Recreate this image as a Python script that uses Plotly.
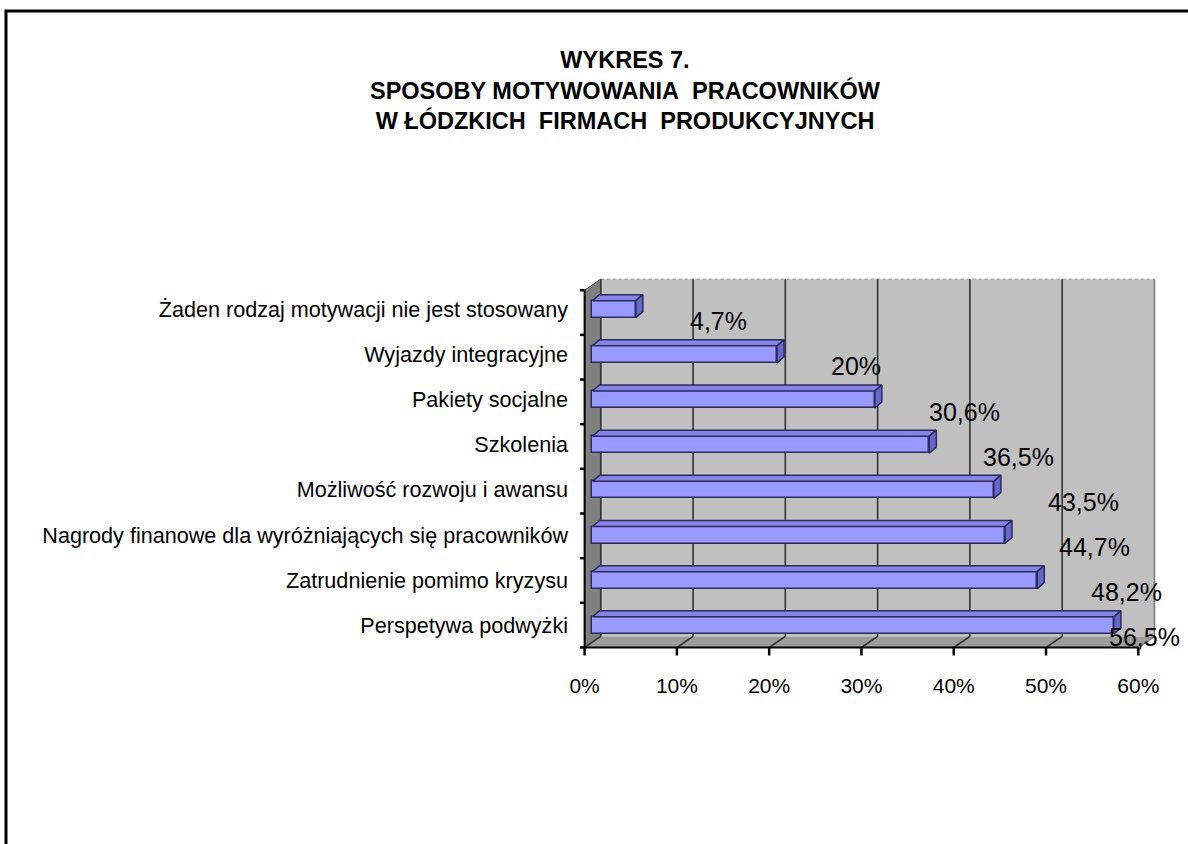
import plotly.graph_objects as go

# ---- data ----
categories = [
    "Żaden rodzaj motywacji nie jest stosowany",
    "Wyjazdy integracyjne",
    "Pakiety socjalne",
    "Szkolenia",
    "Możliwość rozwoju i awansu",
    "Nagrody finanowe dla wyróżniających się pracowników",
    "Zatrudnienie pomimo kryzysu",
    "Perspetywa podwyżki",
]
values = [4.7, 20, 30.6, 36.5, 43.5, 44.7, 48.2, 56.5]
x_ticks = [0, 10, 20, 30, 40, 50, 60]
x_tick_labels = ["0%", "10%", "20%", "30%", "40%", "50%", "60%"]
title_lines = ["WYKRES 7.", "SPOSOBY MOTYWOWANIA\u00a0 PRACOWNIKÓW", "W ŁÓDZKICH\u00a0 FIRMACH\u00a0 PRODUKCYJNYCH"]

# ---- style / geometry constants ----
W, H = 1188, 844
ML, MR, MT, MB = 580, 22, 264, 178
XR = [-0.5, 63.0]
YR = [7.9, -1.0]
FRONT_TOP, FRONT_BOTTOM = -0.42, 7.49
DX, DY = 1.75, 0.245          # depth of 3D box (x units, category units)
BAR_BASE = 0.85
BAR_W = 0.377
BDX, BDY = 0.76, 0.133        # bar depth
FONT = "Liberation Sans, Arial, sans-serif"
BAR_FACE = "#9999FF"
BAR_TOP = "#8585E6"
BAR_SIDE = "#6666CC"
BAR_LINE = "#2B2B5E"

n = len(categories)
idx = list(range(n))

fig = go.Figure()

# 3D top and side faces of bars
tx, ty, sx, sy = [], [], [], []
for i, v in zip(idx, values):
    x0, x1 = BAR_BASE, BAR_BASE + v
    yt, yb = i - BAR_W / 2, i + BAR_W / 2
    tx += [x0, x0 + BDX, x1 + BDX, x1, x0, None]
    ty += [yt, yt - BDY, yt - BDY, yt, yt, None]
    sx += [x1, x1 + BDX, x1 + BDX, x1, x1, None]
    sy += [yt, yt - BDY, yb - BDY, yb, yt, None]
fig.add_trace(go.Scatter(x=tx, y=ty, fill="toself", fillcolor=BAR_TOP, mode="lines",
                         line=dict(color=BAR_LINE, width=1.5), hoverinfo="skip", showlegend=False))
fig.add_trace(go.Scatter(x=sx, y=sy, fill="toself", fillcolor=BAR_SIDE, mode="lines",
                         line=dict(color=BAR_LINE, width=1.5), hoverinfo="skip", showlegend=False))

# front faces
fig.add_trace(go.Bar(
    x=values, y=idx, base=BAR_BASE, orientation="h", width=BAR_W,
    marker=dict(color=BAR_FACE, line=dict(color=BAR_LINE, width=1.5)),
    showlegend=False, hovertemplate="%{x}%<extra></extra>",
))

shapes = []
# back wall
shapes.append(dict(type="rect", xref="x", yref="y", x0=DX, x1=60 + DX,
                   y0=FRONT_TOP - DY, y1=FRONT_BOTTOM - DY,
                   fillcolor="#C0C0C0", line=dict(width=0), layer="below"))
# top dotted edge of back wall
shapes.append(dict(type="line", xref="x", yref="y", x0=DX, x1=60 + DX,
                   y0=FRONT_TOP - DY, y1=FRONT_TOP - DY,
                   line=dict(color="#8A8A8A", width=1, dash="dot"), layer="below"))
# left wall
shapes.append(dict(type="path", xref="x", yref="y",
                   path=f"M 0 {FRONT_TOP} L {DX} {FRONT_TOP - DY} L {DX} {FRONT_BOTTOM - DY} L 0 {FRONT_BOTTOM} Z",
                   fillcolor="#808080", line=dict(color="#404040", width=1), layer="below"))
# floor
shapes.append(dict(type="path", xref="x", yref="y",
                   path=f"M 0 {FRONT_BOTTOM} L 60 {FRONT_BOTTOM} L {60 + DX} {FRONT_BOTTOM - DY} L {DX} {FRONT_BOTTOM - DY} Z",
                   fillcolor="#9C9C9C", line=dict(width=0), layer="below"))
# gridlines on wall and floor
for k in x_ticks:
    col = "#7A7A7A" if k == x_ticks[-1] else "#333333"
    shapes.append(dict(type="line", xref="x", yref="y", x0=k + DX, x1=k + DX,
                       y0=FRONT_TOP - DY, y1=FRONT_BOTTOM - DY,
                       line=dict(color=col, width=1.6), layer="below"))
    shapes.append(dict(type="line", xref="x", yref="y", x0=k + DX, x1=k,
                       y0=FRONT_BOTTOM - DY, y1=FRONT_BOTTOM,
                       line=dict(color=col, width=1.6), layer="below"))
# axis lines
shapes.append(dict(type="line", xref="x", yref="y", x0=0, x1=0, y0=FRONT_TOP, y1=FRONT_BOTTOM,
                   line=dict(color="black", width=2)))
shapes.append(dict(type="line", xref="x", yref="y", x0=0, x1=60, y0=FRONT_BOTTOM, y1=FRONT_BOTTOM,
                   line=dict(color="black", width=2)))
# x tick marks
for k in x_ticks:
    shapes.append(dict(type="line", xref="x", yref="y", x0=k, x1=k,
                       ysizemode="pixel", yanchor=FRONT_BOTTOM, y0=0, y1=-8,
                       line=dict(color="black", width=2.5)))
# y tick marks at category boundaries
step = (FRONT_BOTTOM - FRONT_TOP) / n
for k in range(n + 1):
    yy = FRONT_TOP + k * step
    shapes.append(dict(type="line", xref="x", yref="y", xsizemode="pixel", xanchor=0,
                       x0=-6, x1=0, y0=yy, y1=yy, line=dict(color="black", width=2.5)))

# outer border (partially off-canvas)
pw, ph = W - ML - MR, H - MT - MB
def px2paper_x(p): return (p - ML) / pw
def px2paper_y(p): return (H - MB - p) / ph
shapes.append(dict(type="rect", xref="paper", yref="paper",
                   x0=px2paper_x(6), x1=px2paper_x(W + 20),
                   y0=px2paper_y(H + 20), y1=px2paper_y(11),
                   line=dict(color="black", width=3), fillcolor="rgba(0,0,0,0)"))

# data labels
annotations = []
for i, v in zip(idx, values):
    txt = f"{v:g}".replace(".", ",") + "%"
    annotations.append(dict(x=min(v + 6.5, 56.6), y=i, xref="x", yref="y", text=txt,
                            showarrow=False, xanchor="left", yanchor="middle", yshift=-12,
                            font=dict(family=FONT, size=25, color="black")))

fig.update_layout(
    width=W, height=H,
    margin=dict(l=ML, r=MR, t=MT, b=MB),
    paper_bgcolor="white", plot_bgcolor="white",
    title=dict(text="<b>" + "<br>".join(title_lines) + "</b>",
               x=625 / W, xanchor="center", y=1 - 68 / H, yanchor="top",
               font=dict(family=FONT, size=23.5, color="black")),
    xaxis=dict(range=XR, tickvals=x_ticks, ticktext=x_tick_labels, showgrid=False,
               zeroline=False, showline=False, ticks="", ticklabelstandoff=5,
               tickfont=dict(family=FONT, size=21, color="black"), fixedrange=True),
    yaxis=dict(range=YR, tickvals=idx, ticktext=categories, showgrid=False,
               zeroline=False, showline=False, ticks="", ticklabelstandoff=11,
               tickfont=dict(family=FONT, size=21.6, color="black"), fixedrange=True),
    shapes=shapes, annotations=annotations,
    bargap=0,
)

fig.write_html("out.html", config={"displayModeBar": False},
               post_script="document.body.style.margin='0px';")
